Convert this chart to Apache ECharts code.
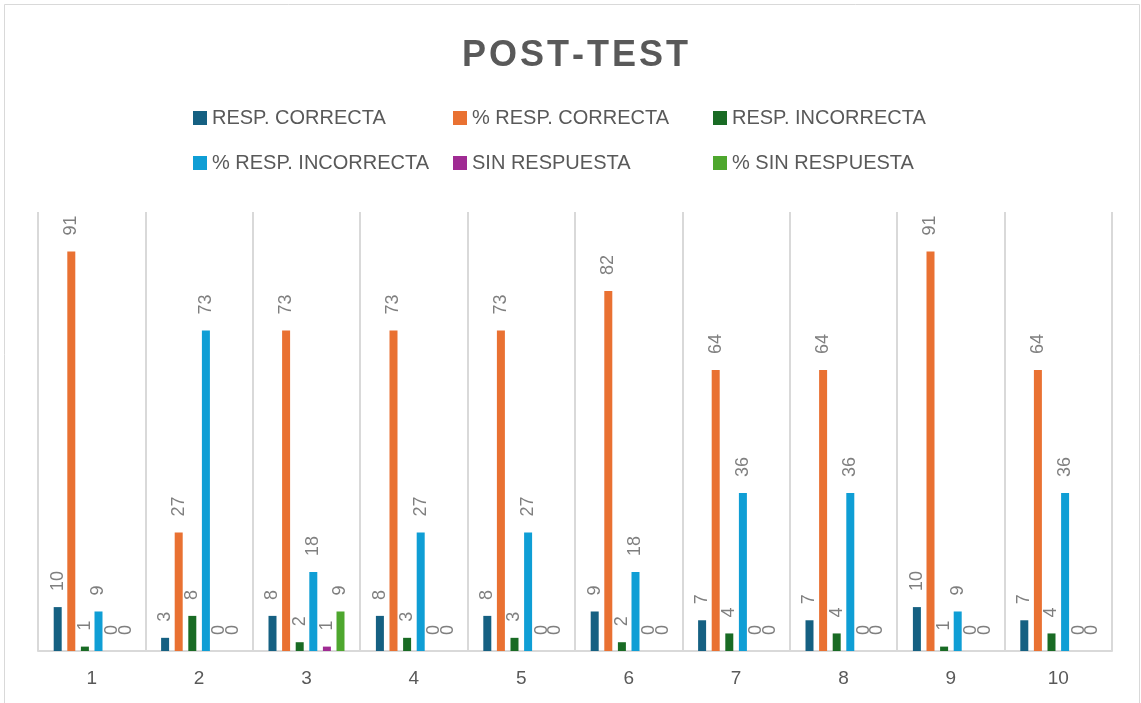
<!DOCTYPE html>
<html>
<head>
<meta charset="utf-8">
<title>POST-TEST</title>
<script src="https://cdn.jsdelivr.net/npm/echarts@6/dist/echarts.min.js"></script>
<style>
  html, body { margin: 0; padding: 0; background: #fff; }
  #chart { width: 1141px; height: 703px; }
</style>
</head>
<body>
<div id="chart"></div>
<script>
// preguntas 1..10
const categories = ["1", "2", "3", "4", "5", "6", "7", "8", "9", "10"];

const respCorrecta = [10, 3, 8, 8, 8, 9, 7, 7, 10, 7];
const pctRespCorrecta = [91, 27, 73, 73, 73, 82, 64, 64, 91, 64];
const respIncorrecta = [1, 8, 2, 3, 3, 2, 4, 4, 1, 4];
const pctRespIncorrecta = [9, 73, 18, 27, 27, 18, 36, 36, 9, 36];
const sinRespuesta = [0, 0, 1, 0, 0, 0, 0, 0, 0, 0];
const pctSinRespuesta = [0, 0, 9, 0, 0, 0, 0, 0, 0, 0];

const seriesNames = [
  "RESP. CORRECTA",
  "% RESP. CORRECTA",
  "RESP. INCORRECTA",
  "% RESP. INCORRECTA",
  "SIN RESPUESTA",
  "% SIN RESPUESTA"
];
const seriesData = [respCorrecta, pctRespCorrecta, respIncorrecta, pctRespIncorrecta, sinRespuesta, pctSinRespuesta];
const colors = ["#156082", "#E97132", "#196B24", "#0F9ED5", "#A02B93", "#4EA72E"];

const font = "'Liberation Sans', Arial, sans-serif";

let chart = echarts.init(document.getElementById("chart"), null, { renderer: "canvas" });

let series = seriesNames.map((name, i) => ({
  name: name,
  type: "bar",
  data: seriesData[i],
  barWidth: 8,
  barGap: "70%",
  itemStyle: { color: colors[i] },
  label: {
    show: true,
    position: "top",
    rotate: 90,
    align: "left",
    verticalAlign: "middle",
    distance: 16,
    color: "#7f7f7f",
    fontSize: 18,
    fontFamily: font
  }
}));

chart.setOption({
  color: colors,
  animation: false,
  title: {
    // hair spaces stand in for the letter spacing of the original title
    text: "P\u200AO\u200AS\u200AT\u200A-\u200AT\u200AE\u200AS\u200AT",
    left: 457,
    top: 33,
    textStyle: { fontSize: 36, fontWeight: "bold", color: "#595959", fontFamily: font }
  },
  legend: {
    left: 193,
    top: 98,
    padding: 0,
    width: 800,
    itemWidth: 14,
    itemHeight: 14,
    itemGap: 5,
    icon: "rect",
    data: seriesNames,
    textStyle: {
      fontSize: 20,
      color: "#595959",
      fontFamily: font,
      width: 236,
      lineHeight: 40
    }
  },
  graphic: [{
    type: "rect",
    shape: { x: 4.5, y: 4.5, width: 1135, height: 720 },
    style: { fill: "none", stroke: "#d9d9d9", lineWidth: 1 },
    silent: true
  }],
  grid: { left: 38, right: 29, top: 212, bottom: 52 },
  xAxis: {
    type: "category",
    data: categories,
    axisLine: { lineStyle: { color: "#d9d9d9", width: 2 } },
    axisTick: { show: false },
    splitLine: { show: true, lineStyle: { color: "#d9d9d9", width: 2 } },
    axisLabel: { color: "#595959", fontSize: 19, fontFamily: font, margin: 18 }
  },
  yAxis: {
    type: "value",
    min: 0,
    max: 100,
    show: false,
    splitLine: { show: false }
  },
  series: series
});
</script>
</body>
</html>
